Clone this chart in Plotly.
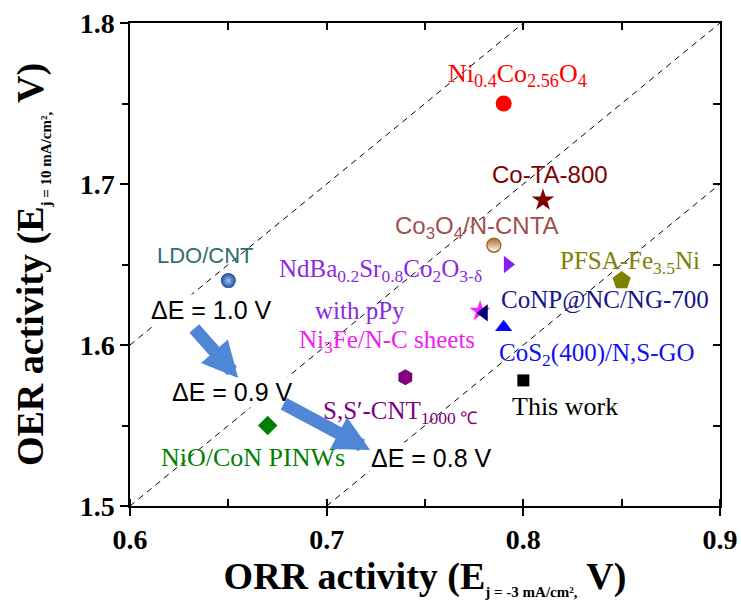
import plotly.graph_objects as go

# ---------------- data ----------------
materials = ["Ni0.4Co2.56O4", "Co-TA-800", "Co3O4/N-CNTA", "NdBa0.2Sr0.8Co2O3-δ with pPy",
             "PFSA-Fe3.5Ni", "LDO/CNT", "Ni3Fe/N-C sheets", "CoNP@NC/NG-700",
             "CoS2(400)/N,S-GO", "S,S′-CNT1000 ℃", "This work", "NiO/CoN PINWs"]
orr_activity = [0.790, 0.810, 0.785, 0.792, 0.850, 0.650, 0.778, 0.780, 0.790, 0.740, 0.800, 0.670]
oer_activity = [1.750, 1.690, 1.662, 1.650, 1.640, 1.640, 1.621, 1.620, 1.611, 1.580, 1.578, 1.550]
delta_e = [1.0, 0.9, 0.8]
x_ticks = [0.6, 0.7, 0.8, 0.9]
y_ticks = [1.5, 1.6, 1.7, 1.8]

# ---------------- styles ----------------
symbols = ["circle", "star", "circle", "triangle-right", "pentagon", "circle", "star",
           "triangle-left", "triangle-up", "hexagon", "square", "diamond"]
colors = ["#FF0000", "#800000", "#A8692A", "#8A1EF0", "#808000", "#1F4F9C", "#FF20FF",
          "#00006E", "#0A0AF5", "#800080", "#000000", "#008000"]
sizes = [16, 17, 14, 15, 19, 15, 16, 15, 15, 16, 12, 15]

SERIF = "Liberation Serif, Times New Roman, serif"
SANS = "Liberation Sans, Arial, sans-serif"

fig = go.Figure()

xmin, xmax = 0.6, 0.9
ymin, ymax = 1.5, 1.8

# constant-ΔE guide lines (OER = ORR + ΔE)
for d in delta_e:
    x0 = max(xmin, ymin - d)
    x1 = min(xmax, ymax - d)
    fig.add_trace(go.Scatter(x=[x0, x1], y=[x0 + d, x1 + d], mode="lines",
                             line=dict(color="black", width=1, dash="6px,5px"),
                             hoverinfo="skip", showlegend=False))

# markers
for i, name in enumerate(materials):
    marker = dict(symbol=symbols[i], color=colors[i], size=sizes[i],
                  line=dict(width=0, color=colors[i]))
    if name == "Co3O4/N-CNTA":
        marker.update(color="#A8692A", gradient=dict(type="vertical", color="#FFFFFF"),
                      line=dict(width=1.5, color="#A8692A"))
    if name == "LDO/CNT":
        marker.update(color="#1C4A96", gradient=dict(type="radial", color="#9CC3F5"))
    fig.add_trace(go.Scatter(x=[orr_activity[i]], y=[oer_activity[i]], mode="markers",
                             marker=marker, name=name, showlegend=False))

# invisible trace that carries the mirrored (top / right) frame axes
fig.add_trace(go.Scatter(x=[None], y=[None], xaxis="x2", yaxis="y2", mode="markers",
                         hoverinfo="skip", showlegend=False))

# ---------------- labels ----------------
labels = [
    ("Ni<sub>0.4</sub>Co<sub>2.56</sub>O<sub>4</sub>", 0.797, 1.768, "#FF0000", SERIF, 26),
    ("Co-TA-800", 0.8137, 1.7056, "#800000", SANS, 24),
    ("Co<sub>3</sub>O<sub>4</sub>/N-CNTA", 0.7766, 1.673, "#A0504E", SANS, 24),
    ("LDO/CNT", 0.6382, 1.6553, "#2F6E6A", SANS, 22),
    ("NdBa<sub>0.2</sub>Sr<sub>0.8</sub>Co<sub>2</sub>O<sub>3-δ</sub>", 0.7272, 1.646, "#8A2BE2", SERIF, 25),
    ("with pPy", 0.717, 1.6217, "#8A2BE2", SERIF, 25),
    ("Ni<sub>3</sub>Fe/N-C sheets", 0.7308, 1.602, "#F020F0", SERIF, 25),
    ("PFSA-Fe<sub>3.5</sub>Ni", 0.854, 1.651, "#808000", SERIF, 25),
    ("CoNP@NC/NG-700", 0.8417, 1.628, "#14148C", SERIF, 25),
    ("CoS<sub>2</sub>(400)/N,S-GO", 0.8377, 1.594, "#1010EE", SERIF, 25),
    ("S,S′-CNT<sub>1000 ℃</sub>", 0.7374, 1.558, "#800080", SERIF, 25),
    ("This work", 0.8214, 1.5621, "#000000", SERIF, 26),
    ("NiO/CoN PINWs", 0.6626, 1.5304, "#008000", SERIF, 26),
]
annotations = []
for text, x, y, col, fam, sz in labels:
    annotations.append(dict(text=text, x=x, y=y, xref="x", yref="y", showarrow=False,
                            xanchor="center", yanchor="middle",
                            font=dict(family=fam, size=sz, color=col)))

de_labels = [("ΔE = 1.0 V", 0.6412, 1.6217), ("ΔE = 0.9 V", 0.6519, 1.5708),
             ("ΔE = 0.8 V", 0.7532, 1.5298)]
for text, x, y in de_labels:
    annotations.append(dict(text=text, x=x, y=y, xref="x", yref="y", showarrow=False,
                            xanchor="center", yanchor="middle", bgcolor="white",
                            font=dict(family=SANS, size=25, color="black")))

# blue arrows
arrows = [((0.632, 1.6112), (0.655, 1.5795)), ((0.6774, 1.564), (0.7221, 1.5348))]
for (ax, ay), (x, y) in arrows:
    annotations.append(dict(x=x, y=y, ax=ax, ay=ay, xref="x", yref="y", axref="x", ayref="y",
                            text="", showarrow=True, arrowhead=2, arrowsize=0.55,
                            arrowwidth=13, arrowcolor="#4F86D5"))

tickfont = dict(family=SERIF, size=28, color="black", weight="bold")
titlefont = dict(family=SERIF, size=38, color="black", weight="bold")

fig.update_layout(
    width=741, height=607,
    margin=dict(l=130, r=21, t=23, b=101),
    paper_bgcolor="white", plot_bgcolor="white",
    showlegend=False,
    annotations=annotations,
    xaxis=dict(range=[xmin, xmax], tickvals=x_ticks, ticktext=[f"{v:.1f}" for v in x_ticks],
               ticks="outside", ticklen=8, tickwidth=1.5, tickcolor="black",
               minor=dict(dtick=0.05, tick0=0.6, ticks="inside", ticklen=7, tickwidth=1.5,
                          tickcolor="black", showgrid=False),
               showline=True, linewidth=1.5, linecolor="black", showgrid=False, zeroline=False,
               tickfont=tickfont, automargin=False,
               title=dict(text="ORR activity (E<sub><span style='font-size:15px'>j = -3 mA/cm²,</span></sub> V)",
                          font=titlefont, standoff=8)),
    yaxis=dict(range=[ymin, ymax], tickvals=y_ticks, ticktext=[f"{v:.1f}" for v in y_ticks],
               ticks="outside", ticklen=8, tickwidth=1.5, tickcolor="black",
               minor=dict(dtick=0.05, tick0=1.5, ticks="outside", ticklen=6, tickwidth=1.5,
                          tickcolor="black", showgrid=False),
               showline=True, linewidth=1.5, linecolor="black", showgrid=False, zeroline=False,
               tickfont=tickfont, automargin=False,
               title=dict(text="OER activity (E<sub><span style='font-size:15px'>j = 10 mA/cm²,</span></sub> V)",
                          font=titlefont, standoff=24)),
    xaxis2=dict(range=[xmin, xmax], overlaying="x", side="top", anchor="y2",
                dtick=0.05, tick0=0.6, ticks="inside", ticklen=7, tickwidth=1.5, tickcolor="black",
                showticklabels=False, showline=True, linewidth=1.5, linecolor="black",
                showgrid=False, zeroline=False, automargin=False),
    yaxis2=dict(range=[ymin, ymax], overlaying="y", side="right", anchor="x2",
                dtick=0.05, tick0=1.5, ticks="inside", ticklen=7, tickwidth=1.5, tickcolor="black",
                showticklabels=False, showline=True, linewidth=1.5, linecolor="black",
                showgrid=False, zeroline=False, automargin=False),
)

fig.write_html("out.html", config={"displayModeBar": False},
               post_script="document.body.style.margin='0px';")
